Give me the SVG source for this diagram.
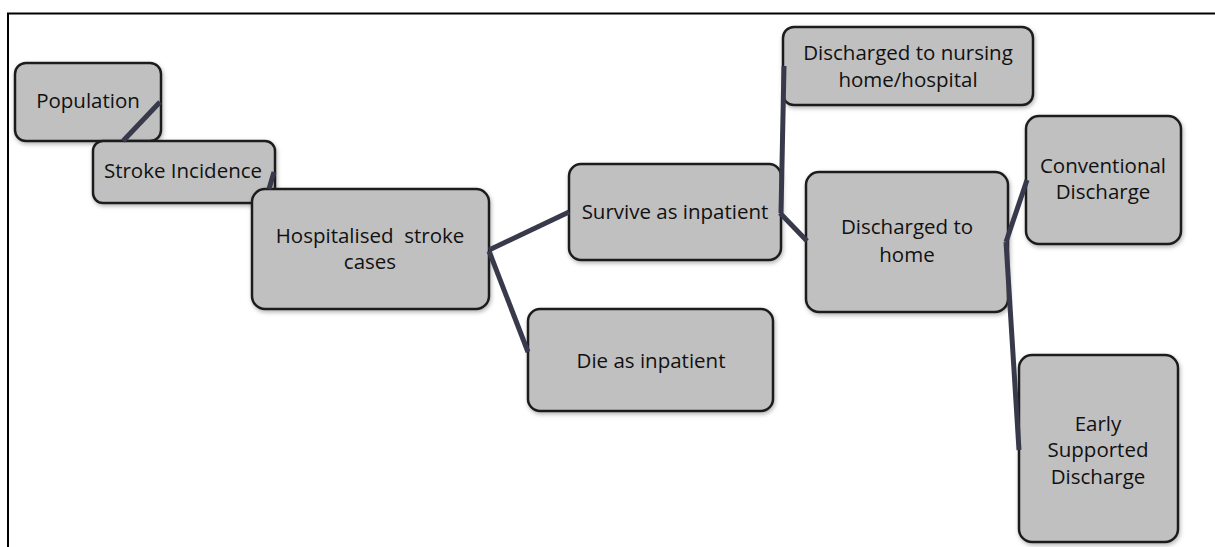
<svg xmlns="http://www.w3.org/2000/svg" width="1215" height="547" viewBox="0 0 1215 547">
<defs>
<filter id="sh" x="-10%" y="-10%" width="130%" height="130%">
<feDropShadow dx="1" dy="2" stdDeviation="2" flood-color="#000" flood-opacity="0.3"/>
</filter>
<style>
.box{fill:#c0c0c0;stroke:#1f1f1f;stroke-width:2.5;filter:url(#sh)}
.t{font-family:"Open Sans","Noto Sans",sans-serif;font-size:20.5px;fill:#111;text-anchor:middle}
.c{stroke:#383a4c;stroke-width:5;fill:none;stroke-linecap:butt}
.frame{stroke:#000;stroke-width:2;fill:none}
</style>
</defs>
<rect width="1215" height="547" fill="#fff"/>
<path class="frame" d="M8 547 V13.5 H1215"/>
<g id="population">
<rect class="box" x="15" y="63" width="146" height="78" rx="11"/>
<text class="t" x="88" y="108">Population</text>
</g>
<g id="stroke-incidence">
<rect class="box" x="93" y="141" width="182" height="62" rx="10"/>
<text class="t" x="183" y="178">Stroke Incidence</text>
</g>
<g id="hospitalised">
<rect class="box" x="252" y="189" width="237" height="120" rx="13"/>
<text class="t" x="370" y="243" xml:space="preserve">Hospitalised  stroke</text>
<text class="t" x="370" y="269">cases</text>
</g>
<g id="survive">
<rect class="box" x="569" y="164" width="212" height="96" rx="12"/>
<text class="t" x="675" y="219">Survive as inpatient</text>
</g>
<g id="die">
<rect class="box" x="528" y="309" width="245" height="102" rx="12"/>
<text class="t" x="651" y="368">Die as inpatient</text>
</g>
<g id="nursing">
<rect class="box" x="783" y="27" width="250" height="78" rx="11"/>
<text class="t" x="908" y="60">Discharged to nursing</text>
<text class="t" x="908" y="87">home/hospital</text>
</g>
<g id="home">
<rect class="box" x="806" y="172" width="202" height="140" rx="13"/>
<text class="t" x="907" y="234">Discharged to</text>
<text class="t" x="907" y="262">home</text>
</g>
<g id="conventional">
<rect class="box" x="1026" y="116" width="155" height="128" rx="13"/>
<text class="t" x="1103" y="173">Conventional</text>
<text class="t" x="1103" y="199">Discharge</text>
</g>
<g id="esd">
<rect class="box" x="1019" y="355" width="159" height="187" rx="13"/>
<text class="t" x="1098" y="431">Early</text>
<text class="t" x="1098" y="457">Supported</text>
<text class="t" x="1098" y="484">Discharge</text>
</g>
<g id="connectors">
<line class="c" x1="160" y1="102" x2="123" y2="141"/>
<line class="c" x1="274" y1="172" x2="269" y2="189"/>
<line class="c" x1="489" y1="250" x2="569" y2="212"/>
<line class="c" x1="489" y1="251" x2="528" y2="352"/>
<line class="c" x1="781" y1="213" x2="784" y2="66"/>
<line class="c" x1="780" y1="213" x2="807" y2="241"/>
<line class="c" x1="1006" y1="242" x2="1027" y2="180"/>
<line class="c" x1="1006" y1="242" x2="1019" y2="450"/>
</g>
</svg>
